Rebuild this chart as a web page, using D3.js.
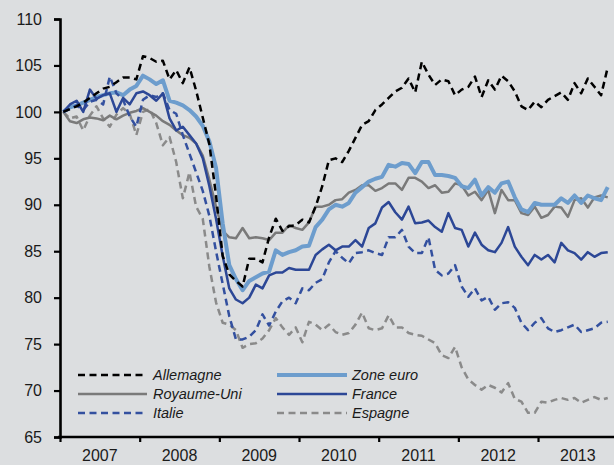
<!DOCTYPE html>
<html>
<head>
<meta charset="utf-8">
<script src="https://d3js.org/d3.v7.min.js"></script>
<style>
    body { margin: 0; background: #dcdee0; }
    svg { display: block; font-family: "Liberation Sans", Arial, sans-serif; }
    .legend-label { font-style: italic; font-size: 14.5px; fill: #1a1a1a; }
    .tick text { font-size: 16px; fill: #1a1a1a; }
</style>
</head>
<body>
<svg width="614" height="465"></svg>
<script>
// monthly index, Jan 2007 = 100
const years = ["2007", "2008", "2009", "2010", "2011", "2012", "2013"];
const yTicks = [65, 70, 75, 80, 85, 90, 95, 100, 105, 110];

const allemagne = [100, 100.3, 100.6, 101, 101.5, 102, 102.5, 102.7, 103.2, 103.7, 103.7, 103.5,
    106, 105.8, 105.4, 105.5, 103.5, 104.5, 103.1, 104.8, 102.3, 99.4, 96.5, 91,
    84.5, 82.5, 81.8, 81.2, 84.2, 84.2, 83.8, 86.5, 88.5, 87.2, 87.7, 87.8,
    88.4, 88.1, 89.8, 92, 94.8, 95, 94.6, 95.8, 97.2, 98.6, 99, 100.2,
    100.8, 101.5, 102.2, 102.6, 103.6, 102.1, 105.4, 104, 102.9, 103.5, 103.3, 101.8,
    102.4, 102.7, 103.8, 101.6, 103.4, 102.4, 103.9, 103.3, 102.2, 100.6, 100.2, 101.1,
    100.5, 101.3, 101.7, 102.1, 101.3, 103.1, 102, 103.6, 102.7, 101.8, 104.8];

const zoneEuro = [100, 100.5, 100.7, 101, 101.3, 101.6, 101.8, 102, 102.1, 101.8, 102.4, 102.8,
    103.9, 103.5, 103, 103.4, 101.2, 101, 100.7, 100.2, 99.5, 98.5, 96.8, 94,
    88, 83.5, 82, 80.8, 81.8, 82.2, 82.6, 82.8, 85.1, 84.6, 84.9, 85.1,
    85.5, 85.6, 87.6, 88.4, 89.5, 90, 89.8, 90.2, 91.3, 91.9, 92.5, 92.8,
    93, 94.3, 94.1, 94.5, 94.4, 93.4, 94.6, 94.6, 93.2, 93.2, 93.1, 92.9,
    92, 91.8, 92.7, 91, 91.9, 91.3, 92.3, 92.5, 90.8, 89.5, 89.2, 90.2,
    90, 90, 90, 90.7, 90.2, 91, 90.2, 91, 90.7, 90.5, 91.9];

const royaumeUni = [100, 99, 98.8, 99.2, 99.4, 99.3, 99.1, 99.6, 99.2, 99.6, 99.9, 100.1,
    100.4, 100, 99.6, 99, 98.6, 98, 97.5, 97.2, 96.6, 95.3, 92.7, 89.8,
    87.2, 86.5, 86.4, 87.5, 86.4, 86.5, 86.4, 86.2, 87, 87, 87.8, 87.5,
    87.3, 88.1, 89.8, 89.8, 90, 90.5, 90.6, 91.3, 91.6, 92.1, 92.1, 91.5,
    91.8, 92.3, 92.3, 91.6, 92.9, 92.9, 92.5, 91.8, 92.1, 91.3, 91.4, 92.3,
    92.1, 91, 91.4, 90.5, 91.6, 89.1, 91.6, 90.5, 90.5, 89.1, 88.9, 89.8,
    88.6, 88.9, 89.8, 89.7, 88.7, 90.5, 90.7, 89.7, 90.8, 91, 90.8];

const france = [100, 100.8, 101.2, 100, 102.4, 101.4, 101.8, 102, 100, 101.5, 100.8, 102,
    102.2, 101.8, 101.2, 102, 99.3, 98, 98.4, 97.5, 96.6, 95, 92, 88.5,
    84.5, 81, 79.8, 79.4, 80, 81.4, 81, 82.4, 82.7, 82.7, 83.2, 83,
    83, 83, 84.6, 85.2, 85.7, 85.1, 85.5, 85.5, 86.2, 85.5, 87.5, 88,
    89.7, 90.3, 89.2, 88.4, 89.8, 88, 88.1, 88.3, 87.6, 87.1, 89.1, 87.5,
    87.3, 85.5, 87, 85.7, 85.1, 84.9, 85.9, 87.6, 85.5, 84.4, 83.5, 84.6,
    84.1, 84.6, 83.8, 85.9, 85.1, 84.8, 84.1, 84.9, 84.4, 84.8, 84.9];

const italie = [100, 100.3, 100.7, 100.2, 101.1, 101.3, 100.8, 103.8, 102, 101.3, 99.5, 98.4,
    101.3, 101.8, 101.6, 102, 100.2, 99.8, 97.5, 95.5, 93.5, 91.5, 88.8, 85,
    81.5, 78, 75.5, 75.5, 75.8, 76.5, 78.2, 77, 78.5, 79.6, 80, 79.4,
    81, 80.8, 81.6, 82, 83.8, 85, 84.3, 83.7, 84.8, 84.9, 85.1, 84.8,
    84.6, 86.5, 86.5, 87.3, 85.5, 84.8, 84.8, 86.5, 83, 82.4, 82.6, 83.5,
    81.2, 80.1, 81, 79.7, 80.1, 78.7, 79.4, 79.5, 78.9, 77.3, 76.5, 77.3,
    77.8, 76.7, 76.3, 76.5, 76.8, 77.1, 76.3, 76.5, 76.7, 77.3, 77.4];

const espagne = [100, 99.3, 99.5, 98, 99.6, 100.6, 99.3, 98.4, 99.7, 100.4, 99.8, 97.5,
    100, 100.3, 98.8, 96.4, 97.3, 94.6, 90.7, 93.5, 89.8, 88.5, 83.3, 79.5,
    77.3, 77.1, 76.5, 74.6, 75, 75.1, 75.6, 76.5, 77.8, 76.8, 76, 76.8,
    75.2, 77.4, 77.1, 76.5, 77.1, 76.3, 76, 76.2, 77.1, 78.4, 76.7, 76.5,
    76.7, 78.1, 76.8, 76.8, 76.2, 76, 75.9, 75.5, 75.1, 73.8, 73.5, 74.7,
    72.5, 71.2, 70.6, 70.1, 70.6, 70.3, 69.8, 70.8, 69.1, 68.8, 67.6, 67.6,
    68.8, 68.7, 69, 69.2, 69, 69.2, 68.7, 69, 69.3, 69, 69.2];

// series styles, drawn in this order
const series = [
    { name: "Espagne", values: espagne, color: "#8a8a8a", width: 2.5, dash: "7,4.5" },
    { name: "Royaume-Uni", values: royaumeUni, color: "#7a7a7a", width: 2.5, dash: null },
    { name: "Zone euro", values: zoneEuro, color: "#6d9dcd", width: 4, dash: null },
    { name: "Italie", values: italie, color: "#33509f", width: 2.5, dash: "7,4.5" },
    { name: "France", values: france, color: "#2c4796", width: 2.5, dash: null },
    { name: "Allemagne", values: allemagne, color: "#000000", width: 2.5, dash: "7,4.5" }
];
const legendCols = [["Allemagne", "Royaume-Uni", "Italie"], ["Zone euro", "France", "Espagne"]];

var svg = d3.select("svg");

const x = d3.scaleLinear().domain([0, 84]).range([60, 617.7]);
const y = d3.scaleLinear().domain([65, 110]).range([437, 19]);

// lines
var line = d3.line()
    .x((d, i) => x(i + 0.5))
    .y(d => y(d));

svg.append("g").selectAll("path")
    .data(series)
    .join("path")
    .attr("d", d => line(d.values))
    .attr("fill", "none")
    .attr("stroke", d => d.color)
    .attr("stroke-width", d => d.width)
    .attr("stroke-dasharray", d => d.dash)
    .attr("stroke-linejoin", "round");

// y axis
var yAxis = svg.append("g")
    .attr("transform", "translate(60,0)")
    .call(d3.axisLeft(y).tickValues(yTicks).tickSize(6).tickPadding(12).tickFormat(d3.format("d")));
yAxis.select(".domain").attr("stroke", "#000").attr("stroke-width", 2.6);
yAxis.selectAll(".tick line").attr("stroke", "#000").attr("stroke-width", 2.2);

// x axis, ticks at year boundaries, labels mid-year
var xAxis = svg.append("g")
    .attr("transform", "translate(0,437)")
    .call(d3.axisBottom(x).tickValues(d3.range(0, 84, 12)).tickSize(5).tickFormat(""));
xAxis.select(".domain").attr("stroke", "#000").attr("stroke-width", 2.6).attr("d", "M58,0H620");
xAxis.selectAll(".tick line").attr("stroke", "#000").attr("stroke-width", 2.2);

svg.append("g").selectAll("text")
    .data(years)
    .join("text")
    .attr("x", (d, i) => x(i * 12 + 6))
    .attr("y", 461)
    .attr("text-anchor", "middle")
    .style("font-size", "16px")
    .style("fill", "#1a1a1a")
    .text(d => d);

// legend
const legendX = [[78, 147, 153], [277, 347, 352]];
const legendY = [375, 394, 413];
legendCols.forEach((col, c) => {
    col.forEach((name, r) => {
        var s = series.find(d => d.name === name);
        var g = svg.append("g");
        g.append("line")
            .attr("x1", legendX[c][0]).attr("x2", legendX[c][1])
            .attr("y1", legendY[r]).attr("y2", legendY[r])
            .attr("stroke", s.color)
            .attr("stroke-width", s.width)
            .attr("stroke-dasharray", s.dash);
        g.append("text")
            .attr("class", "legend-label")
            .attr("x", legendX[c][2])
            .attr("y", legendY[r] + 5)
            .text(name);
    });
});
</script>
</body>
</html>
